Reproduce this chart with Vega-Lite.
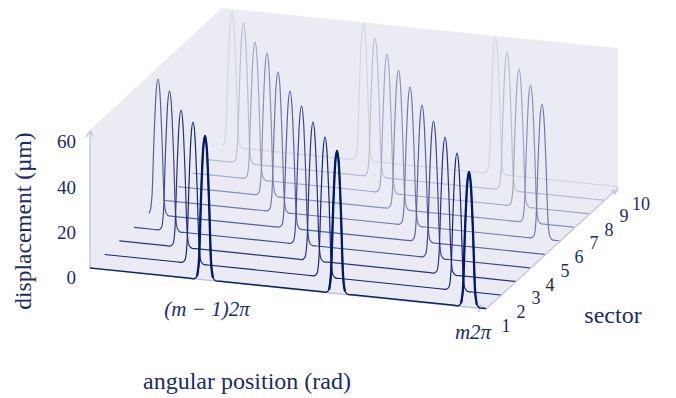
{"$schema":"https://vega.github.io/schema/vega-lite/v6.json","width":676,"height":398,"padding":0,"autosize":{"type":"fit","contains":"padding"},"background":"white","config":{"view":{"stroke":null}},
"datasets":{
"wall":[{"x":90,"top":130,"bottom":268},{"x":222,"top":8,"bottom":281.5},{"x":486,"top":35,"bottom":308.5},{"x":618,"top":48,"bottom":187}],
"axes":[{"a":"z","x":90,"y":268},{"a":"z","x":90,"y":131},{"a":"zh","x":86,"y":137},{"a":"zh","x":90,"y":131},{"a":"zh","x":94,"y":137},{"a":"x","x":90,"y":268},{"a":"x","x":486,"y":309},{"a":"xh","x":479,"y":312},{"a":"xh","x":486,"y":309},{"a":"xh","x":480,"y":305},{"a":"y","x":486,"y":309},{"a":"y","x":618,"y":188},{"a":"yh","x":612,"y":190},{"a":"yh","x":618,"y":188},{"a":"yh","x":615,"y":194}],
"curves":[
{"s":10,"x":222,"y":145.5},{"s":10,"x":224,"y":143.6},{"s":10,"x":226,"y":128.1},{"s":10,"x":228,"y":70.4},{"s":10,"x":230,"y":25.8},{"s":10,"x":232,"y":11},{"s":10,"x":234,"y":26.2},{"s":10,"x":236,"y":71.2},{"s":10,"x":238,"y":129.3},{"s":10,"x":240,"y":145.2},{"s":10,"x":243,"y":148.2},{"s":10,"x":247,"y":148.6},
{"s":10,"x":348.5,"y":159},{"s":10,"x":352.5,"y":159.4},{"s":10,"x":355.5,"y":157},{"s":10,"x":357.5,"y":141.3},{"s":10,"x":359.5,"y":83.1},{"s":10,"x":361.5,"y":38},{"s":10,"x":363.5,"y":23},{"s":10,"x":365.5,"y":38.4},{"s":10,"x":367.5,"y":83.9},{"s":10,"x":369.5,"y":142.5},{"s":10,"x":371.5,"y":158.6},{"s":10,"x":374.5,"y":161.6},{"s":10,"x":378.5,"y":162},
{"s":10,"x":480.5,"y":172.5},{"s":10,"x":484.5,"y":172.9},{"s":10,"x":487.5,"y":170.5},{"s":10,"x":489.5,"y":154.9},{"s":10,"x":491.5,"y":96.9},{"s":10,"x":493.5,"y":51.9},{"s":10,"x":495.5,"y":37},{"s":10,"x":497.5,"y":52.3},{"s":10,"x":499.5,"y":97.7},{"s":10,"x":501.5,"y":156.1},{"s":10,"x":503.5,"y":172.1},{"s":10,"x":506.5,"y":175.1},{"s":10,"x":510.5,"y":175.5},{"s":10,"x":618,"y":186.6},
{"s":9,"x":207.3,"y":159.6},{"s":9,"x":228.5,"y":161.8},{"s":9,"x":232.5,"y":162.2},{"s":9,"x":235.5,"y":159.7},{"s":9,"x":237.5,"y":143.7},{"s":9,"x":239.5,"y":84.3},{"s":9,"x":241.5,"y":38.2},{"s":9,"x":243.5,"y":23},{"s":9,"x":245.5,"y":38.6},{"s":9,"x":247.5,"y":85.1},{"s":9,"x":249.5,"y":144.9},{"s":9,"x":251.5,"y":161.3},{"s":9,"x":254.5,"y":164.4},{"s":9,"x":258.5,"y":164.8},
{"s":9,"x":360,"y":175.3},{"s":9,"x":364,"y":175.7},{"s":9,"x":367,"y":173.2},{"s":9,"x":369,"y":157.4},{"s":9,"x":371,"y":98.6},{"s":9,"x":373,"y":53.1},{"s":9,"x":375,"y":38},{"s":9,"x":377,"y":53.5},{"s":9,"x":379,"y":99.4},{"s":9,"x":381,"y":158.6},{"s":9,"x":383,"y":174.8},{"s":9,"x":386,"y":177.9},{"s":9,"x":390,"y":178.3},
{"s":9,"x":492,"y":188.8},{"s":9,"x":496,"y":189.2},{"s":9,"x":499,"y":186.7},{"s":9,"x":501,"y":171},{"s":9,"x":503,"y":112.4},{"s":9,"x":505,"y":67.1},{"s":9,"x":507,"y":52},{"s":9,"x":509,"y":67.5},{"s":9,"x":511,"y":113.2},{"s":9,"x":513,"y":172.2},{"s":9,"x":515,"y":188.3},{"s":9,"x":518,"y":191.4},{"s":9,"x":522,"y":191.8},{"s":9,"x":603.3,"y":200.1},
{"s":8,"x":192.7,"y":173.15},{"s":8,"x":240,"y":178},{"s":8,"x":244,"y":178.4},{"s":8,"x":247,"y":176},{"s":8,"x":249,"y":160.3},{"s":8,"x":251,"y":102.1},{"s":8,"x":253,"y":57},{"s":8,"x":255,"y":42},{"s":8,"x":257,"y":57.4},{"s":8,"x":259,"y":102.9},{"s":8,"x":261,"y":161.5},{"s":8,"x":263,"y":177.6},{"s":8,"x":266,"y":180.6},{"s":8,"x":270,"y":181},
{"s":8,"x":372,"y":191.5},{"s":8,"x":376,"y":191.9},{"s":8,"x":379,"y":189.4},{"s":8,"x":381,"y":173.6},{"s":8,"x":383,"y":114.8},{"s":8,"x":385,"y":69.1},{"s":8,"x":387,"y":54},{"s":8,"x":389,"y":69.5},{"s":8,"x":391,"y":115.6},{"s":8,"x":393,"y":174.8},{"s":8,"x":395,"y":191},{"s":8,"x":398,"y":194.1},{"s":8,"x":402,"y":194.5},
{"s":8,"x":504,"y":205},{"s":8,"x":508,"y":205.4},{"s":8,"x":511,"y":203},{"s":8,"x":513,"y":187.3},{"s":8,"x":515,"y":129.1},{"s":8,"x":517,"y":84},{"s":8,"x":519,"y":69},{"s":8,"x":521,"y":84.4},{"s":8,"x":523,"y":129.9},{"s":8,"x":525,"y":188.5},{"s":8,"x":527,"y":204.6},{"s":8,"x":530,"y":207.6},{"s":8,"x":534,"y":208},{"s":8,"x":588.7,"y":213.7},
{"s":7,"x":178,"y":186.7},{"s":7,"x":252,"y":194.3},{"s":7,"x":256,"y":194.7},{"s":7,"x":259,"y":192.1},{"s":7,"x":261,"y":175.9},{"s":7,"x":263,"y":115.4},{"s":7,"x":265,"y":68.4},{"s":7,"x":267,"y":53},{"s":7,"x":269,"y":68.8},{"s":7,"x":271,"y":116.2},{"s":7,"x":273,"y":177.1},{"s":7,"x":275,"y":193.7},{"s":7,"x":278,"y":196.9},{"s":7,"x":282,"y":197.3},
{"s":7,"x":383.5,"y":207.8},{"s":7,"x":387.5,"y":208.2},{"s":7,"x":390.5,"y":205.7},{"s":7,"x":392.5,"y":189.9},{"s":7,"x":394.5,"y":130.8},{"s":7,"x":396.5,"y":85.1},{"s":7,"x":398.5,"y":70},{"s":7,"x":400.5,"y":85.5},{"s":7,"x":402.5,"y":131.6},{"s":7,"x":404.5,"y":191.1},{"s":7,"x":406.5,"y":207.3},{"s":7,"x":409.5,"y":210.4},{"s":7,"x":413.5,"y":210.8},
{"s":7,"x":515.5,"y":221.3},{"s":7,"x":519.5,"y":221.7},{"s":7,"x":522.5,"y":219.3},{"s":7,"x":524.5,"y":203.6},{"s":7,"x":526.5,"y":145.2},{"s":7,"x":528.5,"y":100},{"s":7,"x":530.5,"y":85},{"s":7,"x":532.5,"y":100.4},{"s":7,"x":534.5,"y":146},{"s":7,"x":536.5,"y":204.8},{"s":7,"x":538.5,"y":220.9},{"s":7,"x":541.5,"y":223.9},{"s":7,"x":545.5,"y":224.3},{"s":7,"x":574,"y":227.2},
{"s":6,"x":163.3,"y":200.25},{"s":6,"x":263,"y":210.5},{"s":6,"x":267,"y":210.9},{"s":6,"x":270,"y":208.4},{"s":6,"x":272,"y":192.5},{"s":6,"x":274,"y":133.1},{"s":6,"x":276,"y":87.1},{"s":6,"x":278,"y":72},{"s":6,"x":280,"y":87.5},{"s":6,"x":282,"y":133.9},{"s":6,"x":284,"y":193.7},{"s":6,"x":286,"y":210},{"s":6,"x":289,"y":213.1},{"s":6,"x":293,"y":213.5},
{"s":6,"x":395,"y":224},{"s":6,"x":399,"y":224.4},{"s":6,"x":402,"y":221.9},{"s":6,"x":404,"y":206.2},{"s":6,"x":406,"y":147.6},{"s":6,"x":408,"y":102},{"s":6,"x":410,"y":87},{"s":6,"x":412,"y":102.4},{"s":6,"x":414,"y":148.4},{"s":6,"x":416,"y":207.4},{"s":6,"x":418,"y":223.5},{"s":6,"x":421,"y":226.6},{"s":6,"x":425,"y":227},
{"s":6,"x":527,"y":237.5},{"s":6,"x":531,"y":237.9},{"s":6,"x":534,"y":235.5},{"s":6,"x":536,"y":220.1},{"s":6,"x":538,"y":163},{"s":6,"x":540,"y":118.8},{"s":6,"x":542,"y":104},{"s":6,"x":544,"y":119.2},{"s":6,"x":546,"y":163.8},{"s":6,"x":548,"y":221.3},{"s":6,"x":550,"y":237.1},{"s":6,"x":553,"y":240.1},{"s":6,"x":557,"y":240.5},{"s":6,"x":559.3,"y":240.8},
{"s":5,"x":148.7,"y":213.3},{"s":5,"x":150,"y":211.3},{"s":5,"x":152,"y":195.8},{"s":5,"x":154,"y":138.4},{"s":5,"x":156,"y":93.9},{"s":5,"x":158,"y":79},{"s":5,"x":160,"y":94.3},{"s":5,"x":162,"y":139.2},{"s":5,"x":164,"y":197},{"s":5,"x":166,"y":212.9},{"s":5,"x":169,"y":215.9},{"s":5,"x":173,"y":216.3},
{"s":5,"x":275,"y":226.8},{"s":5,"x":279,"y":227.2},{"s":5,"x":282,"y":224.8},{"s":5,"x":284,"y":209.1},{"s":5,"x":286,"y":151},{"s":5,"x":288,"y":106},{"s":5,"x":290,"y":91},{"s":5,"x":292,"y":106.4},{"s":5,"x":294,"y":151.8},{"s":5,"x":296,"y":210.3},{"s":5,"x":298,"y":226.4},{"s":5,"x":301,"y":229.4},{"s":5,"x":305,"y":229.8},
{"s":5,"x":407,"y":240.3},{"s":5,"x":411,"y":240.7},{"s":5,"x":414,"y":238.3},{"s":5,"x":416,"y":222.7},{"s":5,"x":418,"y":164.8},{"s":5,"x":420,"y":120},{"s":5,"x":422,"y":105},{"s":5,"x":424,"y":120.4},{"s":5,"x":426,"y":165.6},{"s":5,"x":428,"y":223.9},{"s":5,"x":430,"y":239.9},{"s":5,"x":433,"y":242.9},{"s":5,"x":437,"y":243.3},{"s":5,"x":544.7,"y":254.3},
{"s":4,"x":134,"y":227.35},{"s":4,"x":154.5,"y":229.5},{"s":4,"x":158.5,"y":229.9},{"s":4,"x":161.5,"y":227.4},{"s":4,"x":163.5,"y":211.5},{"s":4,"x":165.5,"y":152.1},{"s":4,"x":167.5,"y":106.1},{"s":4,"x":169.5,"y":91},{"s":4,"x":171.5,"y":106.5},{"s":4,"x":173.5,"y":152.9},{"s":4,"x":175.5,"y":212.7},{"s":4,"x":177.5,"y":229},{"s":4,"x":180.5,"y":232.1},{"s":4,"x":184.5,"y":232.5},
{"s":4,"x":286.5,"y":243},{"s":4,"x":290.5,"y":243.4},{"s":4,"x":293.5,"y":240.9},{"s":4,"x":295.5,"y":225.2},{"s":4,"x":297.5,"y":166.6},{"s":4,"x":299.5,"y":121},{"s":4,"x":301.5,"y":106},{"s":4,"x":303.5,"y":121.4},{"s":4,"x":305.5,"y":167.4},{"s":4,"x":307.5,"y":226.4},{"s":4,"x":309.5,"y":242.5},{"s":4,"x":312.5,"y":245.6},{"s":4,"x":316.5,"y":246},
{"s":4,"x":418.5,"y":256.5},{"s":4,"x":422.5,"y":256.9},{"s":4,"x":425.5,"y":254.5},{"s":4,"x":427.5,"y":238.9},{"s":4,"x":429.5,"y":180.9},{"s":4,"x":431.5,"y":135.9},{"s":4,"x":433.5,"y":121},{"s":4,"x":435.5,"y":136.3},{"s":4,"x":437.5,"y":181.7},{"s":4,"x":439.5,"y":240.1},{"s":4,"x":441.5,"y":256.1},{"s":4,"x":444.5,"y":259.1},{"s":4,"x":448.5,"y":259.5},{"s":4,"x":530,"y":267.9},
{"s":3,"x":119.3,"y":240.9},{"s":3,"x":166,"y":245.7},{"s":3,"x":170,"y":246.1},{"s":3,"x":173,"y":243.7},{"s":3,"x":175,"y":228},{"s":3,"x":177,"y":170},{"s":3,"x":179,"y":124.9},{"s":3,"x":181,"y":110},{"s":3,"x":183,"y":125.3},{"s":3,"x":185,"y":170.8},{"s":3,"x":187,"y":229.2},{"s":3,"x":189,"y":245.3},{"s":3,"x":192,"y":248.3},{"s":3,"x":196,"y":248.7},
{"s":3,"x":298,"y":259.2},{"s":3,"x":302,"y":259.6},{"s":3,"x":305,"y":257.1},{"s":3,"x":307,"y":241.3},{"s":3,"x":309,"y":182.6},{"s":3,"x":311,"y":137},{"s":3,"x":313,"y":122},{"s":3,"x":315,"y":137.4},{"s":3,"x":317,"y":183.4},{"s":3,"x":319,"y":242.5},{"s":3,"x":321,"y":258.7},{"s":3,"x":324,"y":261.8},{"s":3,"x":328,"y":262.2},
{"s":3,"x":430,"y":272.7},{"s":3,"x":434,"y":273.1},{"s":3,"x":437,"y":270.7},{"s":3,"x":439,"y":255},{"s":3,"x":441,"y":197},{"s":3,"x":443,"y":151.9},{"s":3,"x":445,"y":137},{"s":3,"x":447,"y":152.3},{"s":3,"x":449,"y":197.8},{"s":3,"x":451,"y":256.2},{"s":3,"x":453,"y":272.3},{"s":3,"x":456,"y":275.3},{"s":3,"x":460,"y":275.7},{"s":3,"x":515.3,"y":281.4},
{"s":2,"x":104.7,"y":254.5},{"s":2,"x":178,"y":262},{"s":2,"x":182,"y":262.4},{"s":2,"x":185,"y":259.9},{"s":2,"x":187,"y":243.8},{"s":2,"x":189,"y":183.8},{"s":2,"x":191,"y":137.2},{"s":2,"x":193,"y":122},{"s":2,"x":195,"y":137.6},{"s":2,"x":197,"y":184.6},{"s":2,"x":199,"y":245},{"s":2,"x":201,"y":261.5},{"s":2,"x":204,"y":264.6},{"s":2,"x":208,"y":265},
{"s":2,"x":310,"y":275.5},{"s":2,"x":314,"y":275.9},{"s":2,"x":317,"y":273.4},{"s":2,"x":319,"y":257.5},{"s":2,"x":321,"y":198.1},{"s":2,"x":323,"y":152.1},{"s":2,"x":325,"y":137},{"s":2,"x":327,"y":152.5},{"s":2,"x":329,"y":198.9},{"s":2,"x":331,"y":258.7},{"s":2,"x":333,"y":275},{"s":2,"x":336,"y":278.1},{"s":2,"x":340,"y":278.5},
{"s":2,"x":442,"y":289},{"s":2,"x":446,"y":289.4},{"s":2,"x":449,"y":287},{"s":2,"x":451,"y":271.3},{"s":2,"x":453,"y":213.1},{"s":2,"x":455,"y":168},{"s":2,"x":457,"y":153},{"s":2,"x":459,"y":168.4},{"s":2,"x":461,"y":213.9},{"s":2,"x":463,"y":272.5},{"s":2,"x":465,"y":288.6},{"s":2,"x":468,"y":291.6},{"s":2,"x":472,"y":292},{"s":2,"x":500.7,"y":295},
{"s":1,"x":90,"y":268},{"s":1,"x":190,"y":278.3},{"s":1,"x":194,"y":278.7},{"s":1,"x":197,"y":276.1},{"s":1,"x":199,"y":259.7},{"s":1,"x":201,"y":198.9},{"s":1,"x":203,"y":151.4},{"s":1,"x":205,"y":136},{"s":1,"x":207,"y":151.8},{"s":1,"x":209,"y":199.7},{"s":1,"x":211,"y":260.9},{"s":1,"x":213,"y":277.7},{"s":1,"x":216,"y":280.9},{"s":1,"x":220,"y":281.3},
{"s":1,"x":322,"y":291.8},{"s":1,"x":326,"y":292.2},{"s":1,"x":329,"y":289.6},{"s":1,"x":331,"y":273.4},{"s":1,"x":333,"y":213.2},{"s":1,"x":335,"y":166.3},{"s":1,"x":337,"y":151},{"s":1,"x":339,"y":166.7},{"s":1,"x":341,"y":214},{"s":1,"x":343,"y":274.6},{"s":1,"x":345,"y":291.2},{"s":1,"x":348,"y":294.4},{"s":1,"x":352,"y":294.8},
{"s":1,"x":454,"y":305.3},{"s":1,"x":458,"y":305.7},{"s":1,"x":461,"y":303.3},{"s":1,"x":463,"y":288},{"s":1,"x":465,"y":230.9},{"s":1,"x":467,"y":186.8},{"s":1,"x":469,"y":172},{"s":1,"x":471,"y":187.2},{"s":1,"x":473,"y":231.7},{"s":1,"x":475,"y":289.2},{"s":1,"x":477,"y":304.9},{"s":1,"x":480,"y":307.9},{"s":1,"x":484,"y":308.3},{"s":1,"x":486,"y":308.5}
],
"ticks":[{"t":"60","x":76,"y":142},{"t":"40","x":76,"y":188},{"t":"20","x":76,"y":233},{"t":"0","x":76,"y":278}],
"sectors":[{"t":"1","x":506,"y":327},{"t":"2","x":521,"y":313},{"t":"3","x":536,"y":299},{"t":"4","x":550,"y":286},{"t":"5","x":565,"y":272},{"t":"6","x":579,"y":258},{"t":"7","x":594,"y":244},{"t":"8","x":609,"y":231},{"t":"9","x":624,"y":217},{"t":"10","x":641,"y":205}],
"math":[{"t":"(m − 1)2π","x":207,"y":310},{"t":"m2π","x":473,"y":333}],
"titles":[{"t":"angular position (rad)","x":247,"y":382},{"t":"sector","x":613,"y":316}],
"ytitle":[{"t":"displacement (µm)","x":24,"y":221}]
},
"encoding":{
"x":{"field":"x","type":"quantitative","scale":{"domain":[0,676],"nice":false,"zero":false},"axis":null},
"y":{"field":"y","type":"quantitative","scale":{"domain":[398,0],"nice":false,"zero":false},"axis":null}},
"layer":[
{"data":{"name":"wall"},"mark":{"type":"area","color":"#ebecf3"},"encoding":{"y":{"field":"top","type":"quantitative","scale":{"domain":[398,0],"nice":false,"zero":false},"axis":null},"y2":{"field":"bottom"}}},
{"data":{"name":"axes"},"mark":{"type":"line","color":"#bfc3d8","strokeWidth":1.3},"encoding":{"detail":{"field":"a","type":"nominal"}}},
{"data":{"name":"curves"},"transform":[{"filter":"datum.s>1"}],"mark":{"type":"line","interpolate":"monotone"},"encoding":{
"color":{"field":"s","type":"ordinal","sort":null,"scale":{"domain":[10,9,8,7,6,5,4,3,2,1],"range":["#d2d5e4","#b9bed6","#a0a7c9","#8790bb","#6e79ae","#5562a1","#3c4b93","#243586","#122578","#001a6b"]},"legend":null},
"strokeWidth":{"field":"s","type":"ordinal","sort":null,"scale":{"domain":[10,9,8,7,6,5,4,3,2],"range":[1.2,1.2,1.2,1.2,1.2,1.2,1.3,1.3,1.4]},"legend":null}}},
{"data":{"name":"curves"},"transform":[{"filter":"datum.s==1"}],"mark":{"type":"line","interpolate":"monotone","color":"#0a2170","strokeWidth":1.4}},
{"data":{"name":"curves"},"transform":[{"filter":"datum.s==1 && datum.x>=197 && datum.x<=213"}],"mark":{"type":"line","interpolate":"monotone","color":"#001a6b","strokeWidth":2.3}},
{"data":{"name":"curves"},"transform":[{"filter":"datum.s==1 && datum.x>=329 && datum.x<=345"}],"mark":{"type":"line","interpolate":"monotone","color":"#001a6b","strokeWidth":2.3}},
{"data":{"name":"curves"},"transform":[{"filter":"datum.s==1 && datum.x>=461 && datum.x<=477"}],"mark":{"type":"line","interpolate":"monotone","color":"#001a6b","strokeWidth":2.3}},
{"data":{"name":"ticks"},"mark":{"type":"text","font":"Liberation Serif","fontSize":19,"align":"right","baseline":"middle","color":"#1a2a6c"},"encoding":{"text":{"field":"t"}}},
{"data":{"name":"sectors"},"mark":{"type":"text","font":"Liberation Serif","fontSize":18,"align":"center","baseline":"middle"},"encoding":{"text":{"field":"t"},"color":{"condition":{"test":"datum.t==='4'","value":"#2a2a2a"},"value":"#1a2a6c"}}},
{"data":{"name":"math"},"mark":{"type":"text","font":"Liberation Serif","fontStyle":"italic","fontSize":21,"align":"center","baseline":"middle","color":"#1a2a6c"},"encoding":{"text":{"field":"t"}}},
{"data":{"name":"titles"},"mark":{"type":"text","font":"Liberation Serif","fontSize":24,"align":"center","baseline":"middle","color":"#1a2a6c"},"encoding":{"text":{"field":"t"}}},
{"data":{"name":"ytitle"},"mark":{"type":"text","font":"Liberation Serif","fontSize":23.5,"align":"center","baseline":"middle","angle":270,"color":"#1a2a6c"},"encoding":{"text":{"field":"t"}}}
]}
